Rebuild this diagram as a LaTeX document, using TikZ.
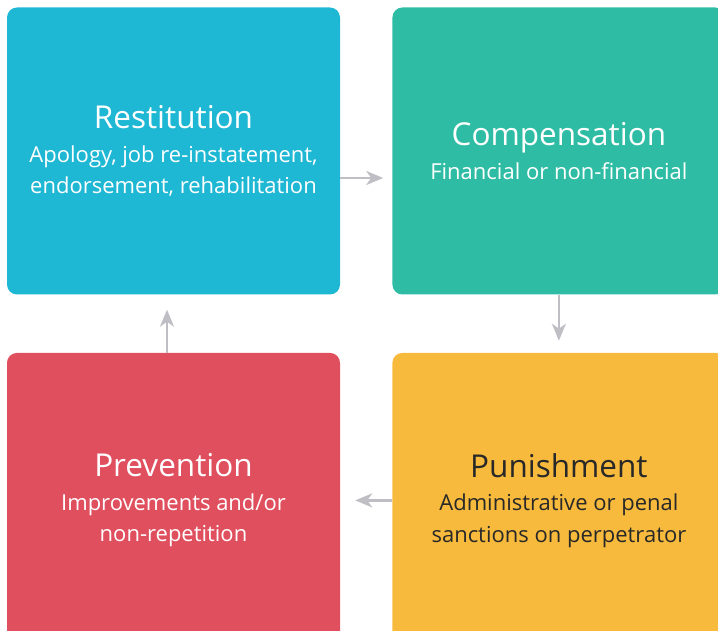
\documentclass[tikz,border=0pt]{standalone}
\usepackage{fontspec}
\setmainfont{Open Sans}
\usepackage{tikz}
\usetikzlibrary{arrows.meta,positioning}

\definecolor{restcol}{RGB}{30,183,212}
\definecolor{compcol}{RGB}{46,189,164}
\definecolor{puncol}{RGB}{247,186,60}
\definecolor{prevcol}{RGB}{224,79,94}
\definecolor{arrcol}{RGB}{190,190,196}
\definecolor{darktext}{RGB}{40,40,40}

\tikzset{
  card/.style={rounded corners=10pt, minimum width=333pt, minimum height=287pt,
               align=center, text=white, inner sep=0pt,
               font=\fontsize{22}{31.5}\selectfont},
  flow/.style={draw=arrcol, line width=2.5pt,
               -{Stealth[length=17pt,width=14pt,inset=5pt]}}
}
\newcommand{\cardtitle}[1]{{\fontsize{31.5}{33}\selectfont #1}\\[2pt]}

\begin{document}
\begin{tikzpicture}[x=1pt,y=1pt]
  \useasboundingbox (0,0) rectangle (718,-631);

  \node[card, fill=restcol] (rest) at (173.5,-151)
    {\cardtitle{Restitution}Apology, job re-instatement,\\endorsement, rehabilitation};
  \node[card, fill=compcol, right=52pt of rest] (comp)
    {\cardtitle{Compensation}Financial or non-financial};
  \node[card, fill=prevcol, minimum height=295pt, below=58pt of rest] (prev)
    {\cardtitle{Prevention}Improvements and/or\\non-repetition};
  \node[card, fill=puncol, text=darktext, minimum height=295pt, right=52pt of prev] (pun)
    {\cardtitle{Punishment}Administrative or penal\\sanctions on perpetrator};

  % cycle
  \draw[flow, shorten >=9pt] ([yshift=-27pt]rest.east) -- ([yshift=-27pt]comp.west);
  \draw[flow, shorten >=12pt] (comp.south) -- (comp.south |- pun.north);
  \draw[flow, shorten >=15pt] (pun.west) -- (prev.east);
  \draw[flow, shorten >=15pt] ([xshift=-6.5pt]prev.north) -- ([xshift=-6.5pt]rest.south);
\end{tikzpicture}
\end{document}
